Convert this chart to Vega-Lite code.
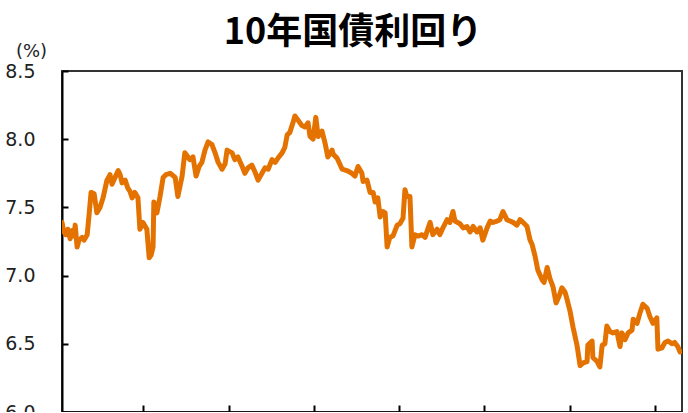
{
  "$schema": "https://vega.github.io/schema/vega-lite/v6.json",
  "width": 620,
  "height": 341,
  "autosize": {"type": "none"},
  "padding": {"left": 62, "top": 71, "right": 6, "bottom": 0},
  "background": "white",
  "title": {
    "text": "10年国債利回り",
    "font": "Noto Sans CJK JP",
    "fontSize": 36,
    "fontWeight": "bold",
    "color": "#000000",
    "anchor": "middle",
    "dx": -19,
    "offset": -10
  },
  "config": {
    "view": {"stroke": "#333333", "strokeWidth": 2}
  },
  "data": {
    "values": [
      {"day": 0.0, "yield": 7.39},
      {"day": 0.5, "yield": 7.32},
      {"day": 1.0, "yield": 7.30},
      {"day": 1.5, "yield": 7.34},
      {"day": 2.1, "yield": 7.27},
      {"day": 2.6, "yield": 7.33},
      {"day": 3.1, "yield": 7.29},
      {"day": 3.4, "yield": 7.37},
      {"day": 3.9, "yield": 7.21},
      {"day": 4.4, "yield": 7.26},
      {"day": 5.2, "yield": 7.28},
      {"day": 5.7, "yield": 7.26},
      {"day": 6.5, "yield": 7.30},
      {"day": 7.0, "yield": 7.45},
      {"day": 7.5, "yield": 7.61},
      {"day": 8.3, "yield": 7.60},
      {"day": 9.0, "yield": 7.46},
      {"day": 9.8, "yield": 7.50},
      {"day": 10.6, "yield": 7.57},
      {"day": 11.6, "yield": 7.70},
      {"day": 12.4, "yield": 7.74},
      {"day": 12.9, "yield": 7.67},
      {"day": 13.7, "yield": 7.72},
      {"day": 14.5, "yield": 7.77},
      {"day": 15.0, "yield": 7.74},
      {"day": 15.5, "yield": 7.68},
      {"day": 16.3, "yield": 7.70},
      {"day": 17.0, "yield": 7.64},
      {"day": 17.5, "yield": 7.62},
      {"day": 18.1, "yield": 7.57},
      {"day": 18.8, "yield": 7.61},
      {"day": 19.6, "yield": 7.57},
      {"day": 20.1, "yield": 7.34},
      {"day": 20.9, "yield": 7.39},
      {"day": 21.9, "yield": 7.34},
      {"day": 22.5, "yield": 7.13},
      {"day": 23.0, "yield": 7.15},
      {"day": 23.5, "yield": 7.21},
      {"day": 23.7, "yield": 7.54},
      {"day": 24.5, "yield": 7.46},
      {"day": 25.3, "yield": 7.58},
      {"day": 26.1, "yield": 7.72},
      {"day": 26.8, "yield": 7.74},
      {"day": 27.9, "yield": 7.75},
      {"day": 29.2, "yield": 7.72},
      {"day": 29.9, "yield": 7.58},
      {"day": 31.0, "yield": 7.73},
      {"day": 31.7, "yield": 7.90},
      {"day": 33.0, "yield": 7.85},
      {"day": 33.8, "yield": 7.87},
      {"day": 34.6, "yield": 7.73},
      {"day": 35.4, "yield": 7.80},
      {"day": 36.1, "yield": 7.83},
      {"day": 36.9, "yield": 7.92},
      {"day": 37.7, "yield": 7.98},
      {"day": 38.7, "yield": 7.96},
      {"day": 39.5, "yield": 7.90},
      {"day": 40.3, "yield": 7.83},
      {"day": 41.3, "yield": 7.78},
      {"day": 42.1, "yield": 7.82},
      {"day": 42.6, "yield": 7.92},
      {"day": 43.9, "yield": 7.90},
      {"day": 44.6, "yield": 7.85},
      {"day": 45.4, "yield": 7.87},
      {"day": 46.5, "yield": 7.80},
      {"day": 47.2, "yield": 7.75},
      {"day": 48.0, "yield": 7.79},
      {"day": 49.0, "yield": 7.81},
      {"day": 49.8, "yield": 7.76},
      {"day": 50.6, "yield": 7.70},
      {"day": 51.6, "yield": 7.75},
      {"day": 52.4, "yield": 7.79},
      {"day": 53.2, "yield": 7.78},
      {"day": 54.2, "yield": 7.85},
      {"day": 55.0, "yield": 7.83},
      {"day": 55.7, "yield": 7.86},
      {"day": 56.8, "yield": 7.90},
      {"day": 57.5, "yield": 7.94},
      {"day": 58.1, "yield": 8.03},
      {"day": 58.8, "yield": 8.05},
      {"day": 59.6, "yield": 8.12},
      {"day": 60.1, "yield": 8.17},
      {"day": 60.9, "yield": 8.14},
      {"day": 61.9, "yield": 8.10},
      {"day": 62.7, "yield": 8.09},
      {"day": 63.5, "yield": 8.12},
      {"day": 64.0, "yield": 8.02},
      {"day": 64.8, "yield": 8.00},
      {"day": 65.5, "yield": 8.16},
      {"day": 66.1, "yield": 8.02},
      {"day": 67.1, "yield": 8.06},
      {"day": 67.9, "yield": 7.97},
      {"day": 68.6, "yield": 7.87},
      {"day": 69.7, "yield": 7.92},
      {"day": 70.0, "yield": 7.89},
      {"day": 71.0, "yield": 7.86},
      {"day": 72.3, "yield": 7.78},
      {"day": 73.5, "yield": 7.77},
      {"day": 74.8, "yield": 7.75},
      {"day": 75.6, "yield": 7.73},
      {"day": 76.4, "yield": 7.80},
      {"day": 77.4, "yield": 7.75},
      {"day": 77.7, "yield": 7.69},
      {"day": 78.7, "yield": 7.70},
      {"day": 79.5, "yield": 7.61},
      {"day": 80.3, "yield": 7.61},
      {"day": 80.8, "yield": 7.54},
      {"day": 81.5, "yield": 7.57},
      {"day": 82.1, "yield": 7.43},
      {"day": 82.8, "yield": 7.47},
      {"day": 83.4, "yield": 7.46},
      {"day": 83.9, "yield": 7.21},
      {"day": 84.6, "yield": 7.28},
      {"day": 85.4, "yield": 7.29},
      {"day": 86.5, "yield": 7.37},
      {"day": 87.2, "yield": 7.38},
      {"day": 88.0, "yield": 7.42},
      {"day": 88.5, "yield": 7.63},
      {"day": 89.0, "yield": 7.58},
      {"day": 89.8, "yield": 7.58},
      {"day": 90.3, "yield": 7.21},
      {"day": 91.1, "yield": 7.30},
      {"day": 91.9, "yield": 7.29},
      {"day": 92.9, "yield": 7.30},
      {"day": 93.7, "yield": 7.28},
      {"day": 94.5, "yield": 7.35},
      {"day": 95.0, "yield": 7.39},
      {"day": 95.7, "yield": 7.30},
      {"day": 96.8, "yield": 7.34},
      {"day": 97.5, "yield": 7.30},
      {"day": 98.3, "yield": 7.35},
      {"day": 99.4, "yield": 7.41},
      {"day": 100.1, "yield": 7.39},
      {"day": 100.9, "yield": 7.47},
      {"day": 101.4, "yield": 7.40},
      {"day": 102.7, "yield": 7.38},
      {"day": 103.5, "yield": 7.35},
      {"day": 104.5, "yield": 7.36},
      {"day": 105.3, "yield": 7.32},
      {"day": 106.1, "yield": 7.36},
      {"day": 107.1, "yield": 7.32},
      {"day": 107.9, "yield": 7.35},
      {"day": 108.6, "yield": 7.26},
      {"day": 109.7, "yield": 7.35},
      {"day": 110.5, "yield": 7.40},
      {"day": 111.2, "yield": 7.39},
      {"day": 112.3, "yield": 7.40},
      {"day": 113.0, "yield": 7.41},
      {"day": 113.8, "yield": 7.47},
      {"day": 114.8, "yield": 7.41},
      {"day": 115.6, "yield": 7.40},
      {"day": 116.4, "yield": 7.39},
      {"day": 117.4, "yield": 7.37},
      {"day": 118.2, "yield": 7.41},
      {"day": 119.0, "yield": 7.39},
      {"day": 120.0, "yield": 7.36},
      {"day": 120.8, "yield": 7.26},
      {"day": 121.3, "yield": 7.23},
      {"day": 122.1, "yield": 7.14},
      {"day": 122.8, "yield": 7.04},
      {"day": 123.9, "yield": 6.97},
      {"day": 124.4, "yield": 6.95},
      {"day": 125.2, "yield": 7.06},
      {"day": 125.9, "yield": 6.98},
      {"day": 126.7, "yield": 6.92},
      {"day": 127.5, "yield": 6.80},
      {"day": 128.3, "yield": 6.85},
      {"day": 129.0, "yield": 6.91},
      {"day": 129.8, "yield": 6.88},
      {"day": 130.3, "yield": 6.83},
      {"day": 131.1, "yield": 6.74},
      {"day": 131.9, "yield": 6.62},
      {"day": 132.9, "yield": 6.49},
      {"day": 133.7, "yield": 6.34},
      {"day": 134.5, "yield": 6.36},
      {"day": 135.5, "yield": 6.37},
      {"day": 135.7, "yield": 6.49},
      {"day": 136.8, "yield": 6.52},
      {"day": 137.0, "yield": 6.40},
      {"day": 138.1, "yield": 6.37},
      {"day": 138.8, "yield": 6.33},
      {"day": 139.4, "yield": 6.49},
      {"day": 140.1, "yield": 6.50},
      {"day": 140.6, "yield": 6.63},
      {"day": 141.4, "yield": 6.59},
      {"day": 142.2, "yield": 6.58},
      {"day": 143.2, "yield": 6.59},
      {"day": 144.0, "yield": 6.48},
      {"day": 144.5, "yield": 6.58},
      {"day": 145.3, "yield": 6.53},
      {"day": 146.1, "yield": 6.58},
      {"day": 147.1, "yield": 6.60},
      {"day": 147.4, "yield": 6.68},
      {"day": 148.4, "yield": 6.65},
      {"day": 149.2, "yield": 6.73},
      {"day": 149.9, "yield": 6.79},
      {"day": 151.0, "yield": 6.76},
      {"day": 151.7, "yield": 6.70},
      {"day": 152.5, "yield": 6.65},
      {"day": 153.5, "yield": 6.69},
      {"day": 153.8, "yield": 6.46},
      {"day": 154.8, "yield": 6.47},
      {"day": 155.6, "yield": 6.51},
      {"day": 156.4, "yield": 6.52},
      {"day": 157.4, "yield": 6.50},
      {"day": 158.1, "yield": 6.51},
      {"day": 158.9, "yield": 6.48},
      {"day": 159.5, "yield": 6.44}
    ]
  },
  "mark": {"type": "line", "color": "#E47200", "strokeWidth": 5, "strokeJoin": "round", "strokeCap": "round", "clip": true},
  "encoding": {
    "x": {
      "field": "day",
      "type": "quantitative",
      "scale": {"domain": [0, 160], "nice": false, "zero": false},
      "axis": {
        "values": [21, 43, 65, 87, 109, 131, 153],
        "labels": false,
        "title": null,
        "grid": false,
        "domainColor": "#000000",
        "domainWidth": 2,
        "tickColor": "#000000",
        "tickWidth": 2,
        "tickSize": -7
      }
    },
    "y": {
      "field": "yield",
      "type": "quantitative",
      "scale": {"domain": [6, 8.5], "nice": false, "zero": false},
      "axis": {
        "values": [6, 6.5, 7, 7.5, 8, 8.5],
        "format": ".1f",
        "grid": false,
        "domainColor": "#000000",
        "domainWidth": 2,
        "tickColor": "#000000",
        "tickWidth": 2,
        "tickSize": -6,
        "labelFont": "DejaVu Sans",
        "labelFontSize": 19,
        "labelColor": "#222222",
        "labelPadding": 33,
        "labelBaseline": "middle",
        "labelFlush": false,
        "labelOverlap": false,
        "title": "(%)",
        "titleFont": "DejaVu Sans",
        "titleFontSize": 18,
        "titleFontWeight": "normal",
        "titleColor": "#222222",
        "titleAngle": 0,
        "titleAlign": "center",
        "titleBaseline": "middle",
        "titleX": -31,
        "titleY": -20
      }
    }
  }
}
